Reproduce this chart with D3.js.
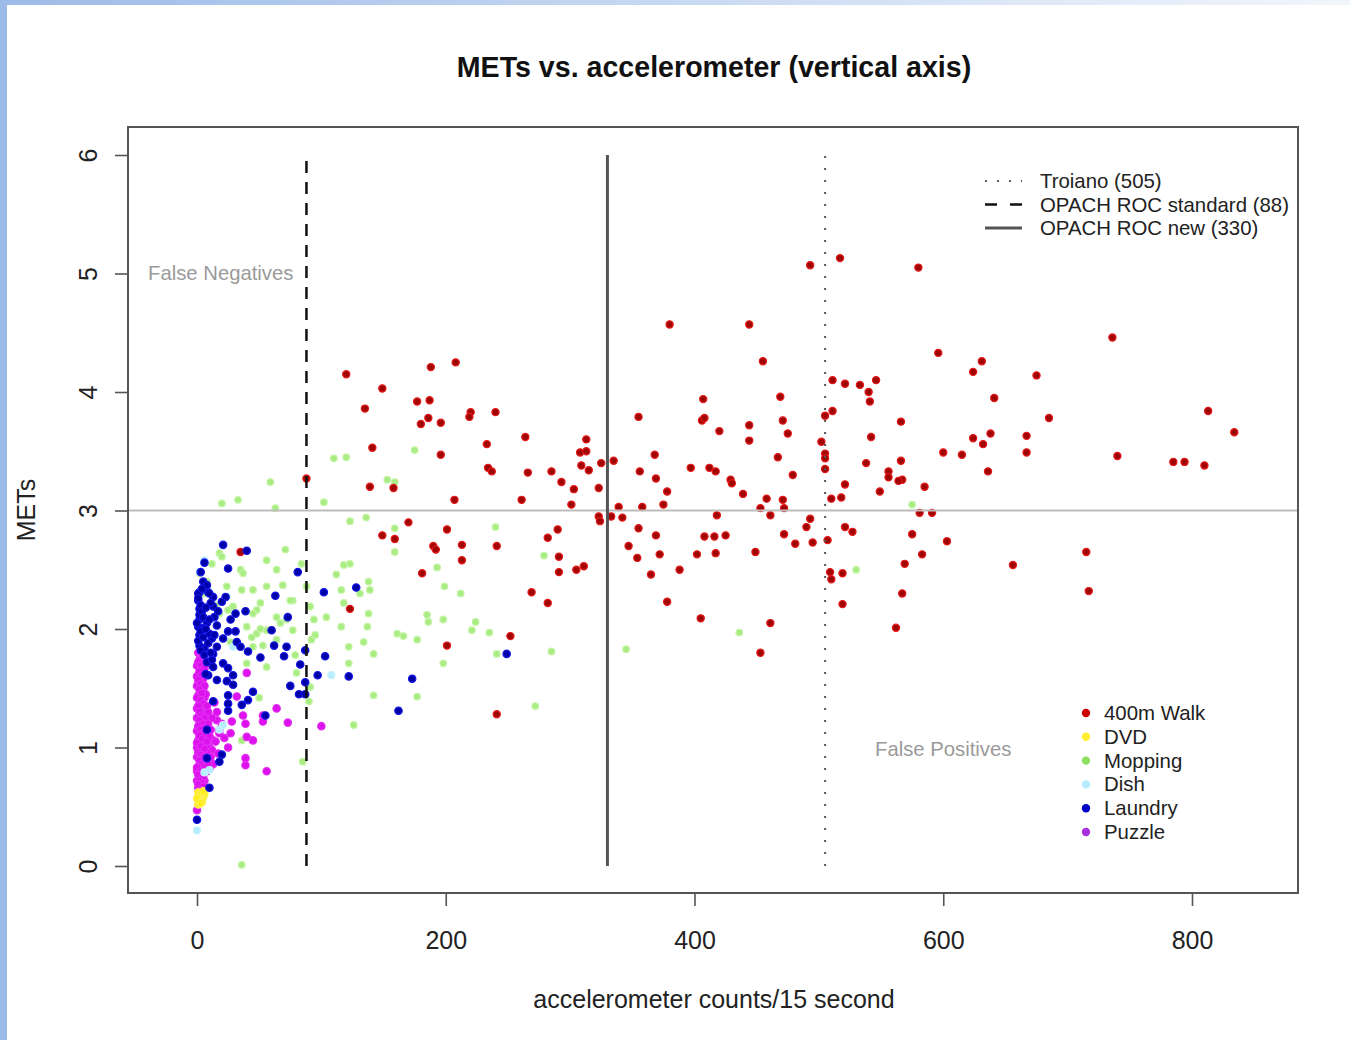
<!DOCTYPE html>
<html><head><meta charset="utf-8">
<script src="https://cdn.jsdelivr.net/npm/d3@7"></script>
<style>body{margin:0;background:#fff}svg{display:block;font-family:"Liberation Sans",Arial,Helvetica,sans-serif}</style>
</head><body><svg id="c" width="1350" height="1040"></svg>
<script>
const xTicks=[0,200,400,600,800];
const yTicks=[0,1,2,3,4,5,6];
const cutoffValues=[505,88,330];
const cutoffLabels=["Troiano (505)","OPACH ROC standard (88)","OPACH ROC new (330)"];
const referenceMET=3;
const groupNames=["400m Walk","DVD","Mopping","Dish","Laundry","Puzzle"];
const regionLabels=["False Negatives","False Positives"];

const walk=[
[120,4.15],[188,4.21],[208,4.25],[149,4.03],[135,3.86],[177,3.92],[187,3.93],[220,3.83],[219,3.79],[240,3.83],
[180,3.73],[186,3.78],[196,3.74],[141,3.53],[196,3.47],[233,3.56],[264,3.62],[313,3.60],[308,3.49],[313,3.50],
[309,3.38],[315,3.34],[325,3.40],[335,3.42],[234,3.36],[237,3.33],[266,3.32],[285,3.33],[293,3.24],[303,3.18],
[323,3.19],[301,3.05],[88,3.27],[139,3.20],[158,3.19],[207,3.09],[261,3.09],[170,2.90],[201,2.84],[290,2.84],
[323,2.95],[324,2.91],[333,2.95],[339,3.03],[149,2.79],[159,2.76],[282,2.77],[493,5.07],[517,5.13],[580,5.05],
[380,4.57],[444,4.57],[736,4.46],[596,4.33],[455,4.26],[631,4.26],[624,4.17],[675,4.14],[511,4.10],[521,4.07],
[533,4.06],[546,4.10],[540,4.00],[541,3.92],[641,3.95],[407,3.94],[469,3.96],[355,3.79],[406,3.76],[408,3.78],
[444,3.72],[471,3.76],[420,3.67],[475,3.65],[511,3.84],[505,3.80],[685,3.78],[813,3.84],[834,3.66],[566,3.75],
[444,3.59],[542,3.62],[624,3.61],[632,3.56],[638,3.65],[667,3.63],[667,3.49],[368,3.47],[600,3.49],[615,3.47],
[740,3.46],[785,3.41],[794,3.41],[810,3.38],[356,3.33],[369,3.27],[397,3.36],[412,3.36],[417,3.33],[429,3.26],
[430,3.23],[467,3.45],[479,3.30],[505,3.48],[505,3.44],[505,3.35],[502,3.58],[538,3.40],[566,3.42],[556,3.33],
[556,3.28],[567,3.26],[564,3.25],[636,3.33],[585,3.20],[549,3.16],[378,3.16],[375,3.05],[358,3.03],[439,3.14],
[453,3.02],[458,3.10],[471,3.09],[472,3.02],[510,3.10],[518,3.11],[521,3.22],[581,2.98],[591,2.98],[418,2.96],
[461,2.96],[493,2.93],[490,2.86],[521,2.86],[527,2.82],[355,2.85],[369,2.79],[408,2.78],[416,2.78],[425,2.79],
[472,2.80],[575,2.80],[190,2.70],[192,2.67],[213,2.71],[213,2.58],[181,2.47],[241,2.70],[291,2.61],[291,2.48],
[305,2.50],[311,2.53],[269,2.31],[282,2.22],[252,1.94],[201,1.86],[342,2.94],[347,2.70],[354,2.60],[372,2.63],
[365,2.46],[388,2.50],[378,2.23],[405,2.09],[402,2.63],[417,2.64],[449,2.65],[481,2.72],[495,2.73],[507,2.75],
[509,2.48],[510,2.42],[519,2.47],[519,2.21],[461,2.05],[453,1.80],[603,2.74],[583,2.63],[569,2.55],[715,2.65],
[656,2.54],[567,2.30],[717,2.32],[562,2.01],[123,2.17],[241,1.28],[35,2.65]
];
const dvd=[[1,0.62],[3,0.60],[5,0.58],[2,0.56],[4,0.54],[1,0.52],[6,0.61],[0,0.57],[3,0.53],[5,0.63]];
const mopping=[
[20,3.06],[33,3.09],[59,3.24],[63,3.02],[102,3.07],[110,3.44],[120,3.45],[153,3.26],[159,3.24],[123,2.91],
[136,2.94],[159,2.85],[159,2.65],[175,3.51],[18,2.64],[71,2.67],[56,2.58],[84,2.55],[64,2.50],[35,2.50],
[8,2.40],[2,2.47],[118,2.54],[123,2.55],[112,2.46],[138,2.40],[88,2.36],[77,2.24],[69,2.37],[56,2.36],
[45,2.33],[24,2.36],[25,2.16],[18,2.13],[29,2.19],[48,2.16],[64,2.10],[75,2.24],[91,2.19],[104,2.10],
[116,2.02],[131,2.30],[138,2.13],[139,2.33],[94,2.08],[40,2.02],[48,1.96],[56,1.99],[64,1.91],[77,1.99],
[92,1.91],[45,1.85],[122,1.85],[134,1.89],[142,1.79],[161,1.96],[166,1.94],[177,1.91],[56,1.68],[80,1.63],
[122,1.71],[142,1.44],[126,1.19],[177,1.43],[85,0.88],[36,0.01],[51,2.22],[40,1.71],[27,1.89],[37,2.47],
[20,2.61],[72,2.08],[193,2.52],[199,2.36],[212,2.30],[116,2.33],[118,2.22],[185,2.12],[186,2.06],[198,2.08],
[224,2.06],[221,1.99],[235,1.97],[198,1.71],[241,1.79],[285,1.81],[345,1.83],[436,1.97],[272,1.35],[90,1.39],
[91,1.51],[240,2.86],[575,3.05],[530,2.50],[50,1.42],[36,1.06],[279,2.62],[36,2.33],[45,2.13],[51,2.00],
[44,1.93],[53,1.86],[67,2.05],[79,1.78],[95,1.95],[137,2.02],[12,2.55],[5,2.30],[15,2.20]
];
const dish=[[0,0.30],[18,1.15],[21,1.19],[108,1.61],[29,1.85],[6,2.58],[6,0.79],[10,0.81],[2,2.48],[24,2.27]];
const laundry=[
[21,2.71],[40,2.66],[6,2.56],[25,2.51],[81,2.48],[2,2.31],[9,2.31],[13,2.27],[23,2.27],[63,2.28],
[102,2.31],[128,2.35],[39,2.15],[31,2.13],[14,2.10],[73,2.10],[2,2.17],[2,2.08],[16,2.03],[25,1.98],
[31,1.98],[60,1.99],[2,1.95],[12,1.92],[21,1.92],[32,1.89],[35,1.85],[62,1.86],[72,1.85],[6,1.84],
[13,1.79],[41,1.81],[51,1.76],[70,1.77],[87,1.82],[103,1.77],[83,1.70],[97,1.61],[122,1.60],[75,1.52],
[82,1.45],[87,1.45],[87,1.55],[8,1.72],[13,1.68],[21,1.71],[25,1.67],[29,1.61],[9,1.61],[16,1.57],
[24,1.56],[29,1.53],[45,1.47],[25,1.44],[2,1.86],[1,2.24],[1,2.02],
[13,2.19],[20,2.23],[10,1.96],[27,2.08],[8,2.05],[16,1.85],[6,2.01],[13,1.39],[25,1.37],[25,1.31],
[36,1.36],[41,1.40],[55,1.27],[20,0.94],[18,0.88],[8,0.91],[10,0.66],[0,0.39],[162,1.31],[249,1.79],
[173,1.58],[8,1.15],
[1,2.30],[3,2.20],[2,2.12],[0,2.05],[3,1.98],[1,1.90],[3,1.82],[1,2.26],[4,2.15],[5,1.93],
[6,1.78],[7,1.62],[5,2.40],[3,2.48],[8,2.37],[10,2.30],[11,2.22],[9,1.88],[12,1.74],
[5,2.10],[7,2.00],[4,2.34],[7,2.18],[10,2.08],[11,1.80],[14,1.95],[17,2.15]
];
const puzzle=[
[40,1.63],[37,1.27],[27,1.12],[45,1.06],[25,1.00],[39,0.91],[39,0.85],[56,0.80],[53,1.27],[73,1.21],
[100,1.18],[16,1.23],[18,1.12],[10,1.00],[13,1.06],[0,0.47],[5,0.78],[39,1.20],[28,1.22],[40,1.09],
[64,1.33],[53,1.22],[32,1.43],[12,0.98],[10,0.88],[8,0.80],
[1,1.80],[4,1.77],[2,1.74],[5,1.71],[0,1.69],[3,1.66],[6,1.63],[1,1.61],[4,1.58],[2,1.55],
[0,1.52],[5,1.50],[3,1.47],[1,1.44],[6,1.42],[2,1.39],[4,1.36],[0,1.33],[3,1.31],[5,1.28],
[1,1.25],[7,1.23],[2,1.20],[4,1.17],[0,1.14],[6,1.12],[3,1.09],[1,1.06],[5,1.03],[8,1.01],
[2,0.98],[4,0.95],[0,0.92],[6,0.90],[3,0.87],[1,0.84],[5,0.81],[2,0.78],[4,0.75],[0,0.72],
[3,0.69],[1,0.66],[2,0.63],[7,1.45],[9,1.30],[8,1.15],[10,1.10],[9,0.95],[11,0.92],[7,0.85],
[10,0.82],[12,1.25],[6,0.72],[5,1.58],[7,1.70],[3,1.80],[0,1.60],[0,1.25],[0,1.00],[0,0.80],
[14,1.38],[16,1.30],[18,1.15],[15,1.05],[17,0.95],[13,0.86],[20,1.20],[22,1.08],
[4,1.79],[1,1.72],[3,1.69],[6,1.67],[2,1.64],[4,1.61],[1,1.57],[3,1.54],[6,1.52],[2,1.49],
[4,1.46],[0,1.42],[3,1.40],[5,1.37],[1,1.35],[2,1.30],[4,1.27],[6,1.25],[2,1.23],[5,1.20],
[1,1.18],[3,1.15],[5,1.12],[2,1.10],[4,1.07],[0,1.04],[3,1.01],[6,0.99],[1,0.96],[3,0.94],
[5,0.92],[2,0.89],[4,0.86],[6,0.84],[0,0.83],[3,0.80],[1,0.77],[5,0.75],[2,0.72],[4,0.70],
[1,0.69],[5,0.67],[3,0.64],[8,1.35],[9,1.20],[8,1.05],[11,1.15],[9,0.86]
];

const FONT='"Liberation Sans",Arial,Helvetica,sans-serif';
const svg=d3.select("#c");
const defs=svg.append("defs");
const gr=defs.append("linearGradient").attr("id","topbar");
gr.append("stop").attr("offset","0%").attr("stop-color","#9dbbe8");
gr.append("stop").attr("offset","100%").attr("stop-color","#f2f6fc");
svg.append("rect").attr("width",1350).attr("height",5).attr("fill","url(#topbar)");
svg.append("rect").attr("width",7).attr("height",1040).attr("fill","#9dbbe8");

const x=d3.scaleLinear().domain([0,800]).range([197,1192]);
const y=d3.scaleLinear().domain([0,6]).range([866,155]);
const box={l:128,r:1298,t:127,b:893};

const series=[
 {data:mopping,fill:"#a8ec82",stroke:"#c4f4a6",r:3.3},
 {data:walk,fill:"#a00606",stroke:"#e81818",r:3.6},
 {data:puzzle,fill:"#dd10ee",stroke:"#e030f0",r:3.7},
 {data:dvd,fill:"#ffee22",stroke:"#fff055",r:3.7},
 {data:dish,fill:"#b6ecff",stroke:"#c8f2ff",r:3.5},
 {data:laundry,fill:"#0000a8",stroke:"#1515e8",r:3.7}
];
series.forEach(s=>{
  svg.append("g").selectAll("circle").data(s.data).join("circle")
    .attr("cx",d=>x(d[0])).attr("cy",d=>y(d[1])).attr("r",s.r)
    .attr("fill",s.fill).attr("stroke",s.stroke).attr("stroke-width",1.2);
});

svg.append("line").attr("x1",box.l).attr("x2",box.r).attr("y1",y(referenceMET)).attr("y2",y(referenceMET))
  .attr("stroke","#bdbdbd").attr("stroke-width",2);

const lineStyles=[
 {dash:"2,10",color:"#555",w:2},
 {dash:"12,9",color:"#111",w:2.5},
 {dash:null,color:"#555",w:3}
];
cutoffValues.forEach((v,i)=>{
  const st=lineStyles[i];
  svg.append("line").attr("x1",x(v)).attr("x2",x(v)).attr("y1",y(0)).attr("y2",y(6))
    .attr("stroke",st.color).attr("stroke-width",st.w).attr("stroke-dasharray",st.dash);
});

svg.append("rect").attr("x",box.l).attr("y",box.t).attr("width",box.r-box.l).attr("height",box.b-box.t)
  .attr("fill","none").attr("stroke","#555").attr("stroke-width",2);

const xa=svg.append("g").attr("transform",`translate(0,${box.b})`)
  .call(d3.axisBottom(x).tickValues(xTicks).tickSize(13).tickFormat(d3.format("d")));
xa.attr("font-size",null).attr("font-family",null);
xa.select(".domain").remove();
xa.selectAll(".tick line").attr("stroke","#555").attr("stroke-width",1.6);
xa.selectAll(".tick text").attr("y",56).attr("dy",null).attr("font-size",25).attr("fill","#222").attr("font-family",FONT);

const ya=svg.append("g").attr("transform",`translate(${box.l},0)`)
  .call(d3.axisLeft(y).tickValues(yTicks).tickSize(13).tickFormat(d3.format("d")));
ya.attr("font-size",null).attr("font-family",null);
ya.select(".domain").remove();
ya.selectAll(".tick line").attr("stroke","#555").attr("stroke-width",1.6);
ya.selectAll(".tick text").attr("transform","rotate(-90)").attr("x",0).attr("y",-31).attr("dy",null)
  .attr("text-anchor","middle").attr("font-size",25).attr("fill","#222").attr("font-family",FONT);

svg.append("text").attr("x",714).attr("y",77).attr("text-anchor","middle").attr("font-size",28.6)
  .attr("font-weight","bold").attr("fill","#111").text("METs vs. accelerometer (vertical axis)");
svg.append("text").attr("x",714).attr("y",1008).attr("text-anchor","middle").attr("font-size",25)
  .attr("fill","#222").text("accelerometer counts/15 second");
svg.append("text").attr("transform","translate(35,510) rotate(-90)").attr("text-anchor","middle").attr("font-size",25)
  .attr("fill","#222").text("METs");

svg.append("text").attr("x",148).attr("y",280).attr("font-size",20.3).attr("fill","#9a9a9a").text(regionLabels[0]);
svg.append("text").attr("x",875).attr("y",756).attr("font-size",20.3).attr("fill","#9a9a9a").text(regionLabels[1]);

const lg=svg.append("g");
cutoffLabels.forEach((t,i)=>{
  const yy=181+i*23.5;
  const st=lineStyles[i];
  lg.append("line").attr("x1",985).attr("x2",1022).attr("y1",yy).attr("y2",yy)
    .attr("stroke",st.color).attr("stroke-width",st.w)
    .attr("stroke-dasharray",i===0?"2,10":(i===1?"12,13":null));
  lg.append("text").attr("x",1040).attr("y",yy+7).attr("font-size",20.4).attr("fill","#222").text(t);
});

const legendFill=["#cc0000","#ffee33","#90e060","#b6ecff","#0000c8","#a830e0"];
groupNames.forEach((t,i)=>{
  const yy=713+i*23.8;
  svg.append("circle").attr("cx",1086).attr("cy",yy).attr("r",4.2).attr("fill",legendFill[i]);
  svg.append("text").attr("x",1104).attr("y",yy+7).attr("font-size",20.4).attr("fill","#222").text(t);
});
</script></body></html>
